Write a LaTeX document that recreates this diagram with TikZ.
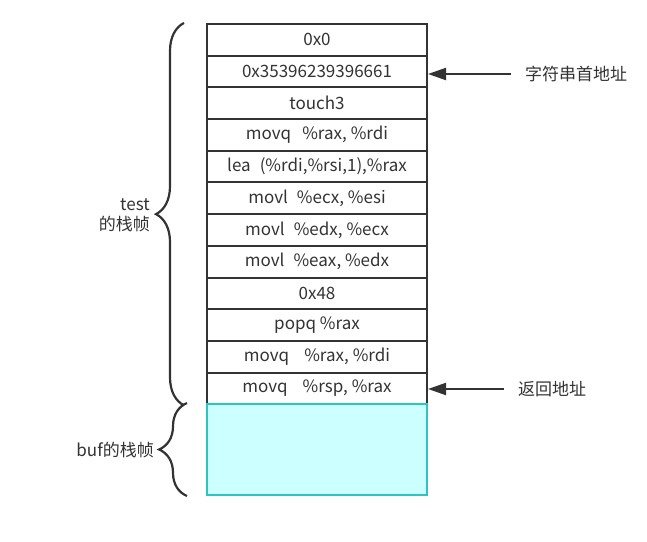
\documentclass[tikz,border=0pt]{standalone}
\usepackage{fontspec}
\setmainfont{Noto Sans CJK SC}
\usetikzlibrary{arrows.meta,decorations.pathreplacing}
\definecolor{ink}{HTML}{333333}
\definecolor{bufline}{HTML}{2EC4C4}
\definecolor{buffill}{HTML}{CCFFFF}
\tikzset{
  cell/.style={draw=ink, line width=2bp, minimum width=220bp, minimum height=31.7bp, inner sep=0pt, text=ink, font=\fontsize{17bp}{20bp}\selectfont},
  note/.style={text=ink, inner sep=2bp, font=\fontsize{17bp}{20bp}\selectfont},
  ptr/.style={draw=ink, line width=2bp, -{Triangle[length=18bp,width=12bp]}},
  frame/.style={draw=ink, line width=2.2bp, decorate, decoration={brace, amplitude=28bp}}
}
\begin{document}
\begin{tikzpicture}[x=1bp,y=-1bp]
\useasboundingbox[fill=white] (0,0) rectangle (647,542);
% stack of test
\node (1) at (317,39.8) [cell] {0x0};
\node (2) at (317,71.5) [cell] {0x35396239396661};
\node (3) at (317,103.2) [cell] {touch3};
\node (4) at (317,134.9) [cell] {movq\hspace{11bp}\%rax, \%rdi};
\node (5) at (317,166.6) [cell] {lea\hspace{9bp}(\%rdi,\%rsi,1),\%rax};
\node (6) at (317,198.3) [cell] {movl\hspace{9bp}\%ecx, \%esi};
\node (7) at (317,230) [cell] {movl\hspace{9bp}\%edx, \%ecx};
\node (8) at (317,261.7) [cell] {movl\hspace{9bp}\%eax, \%edx};
\node (9) at (317,293.4) [cell] {0x48};
\node (10) at (317,325.1) [cell] {popq \%rax};
\node (11) at (317,356.8) [cell] {movq\hspace{15bp}\%rax, \%rdi};
\node (12) at (317,388.5) [cell] {movq\hspace{15bp}\%rsp, \%rax};
% buf
\node (buf) at (317,449.5) [draw=bufline, fill=buffill, line width=2bp, minimum width=220bp, minimum height=91bp] {};
% braces
\draw[frame] ([xshift=-22bp]12.south west) -- ([xshift=-22bp]1.north west);
\draw[frame] ([xshift=-19bp]buf.south west) -- ([xshift=-19bp]buf.north west);
\node (testlbl) at (152,215) [anchor=east, align=right, note] {test\\的栈帧};
\node (buflbl) at (156,450) [anchor=east, note] {buf的栈帧};
% pointers
\node (addr) at (523,74) [anchor=west, note] {字符串首地址};
\node (ret) at (516,389) [anchor=west, note] {返回地址};
\draw[ptr, shorten <=12bp] (addr.west) -- (addr.west -| 2.east);
\draw[ptr, shorten <=12bp] (ret.west) -- (ret.west -| 12.east);
\end{tikzpicture}
\end{document}
